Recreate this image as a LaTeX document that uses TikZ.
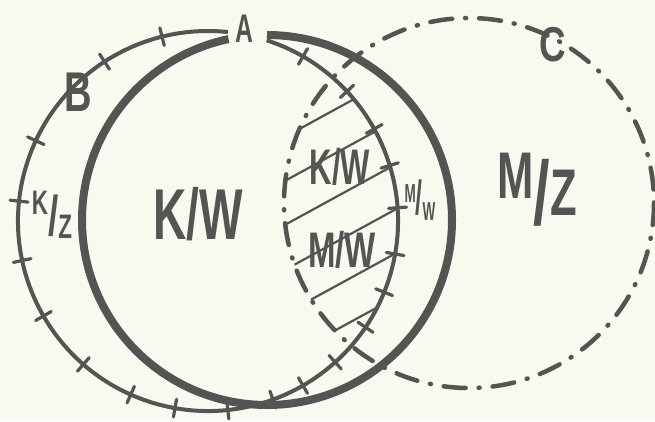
\documentclass[tikz,border=0pt]{standalone}
\usepackage{fontspec}
\setmainfont{Liberation Sans}
\usetikzlibrary{calc}
\definecolor{inkgray}{RGB}{84,84,82}
\definecolor{papercream}{RGB}{250,249,240}
\newcommand{\fs}[1]{\fontsize{#1}{#1}\selectfont}
\tikzset{
  kwcircle/.style={draw=inkgray, line width=8pt},
  tickcircle/.style={draw=inkgray, line width=4pt},
  tickmark/.style={draw=inkgray, line width=3.2pt, line cap=round},
  dotcircle/.style={draw=inkgray, line width=4.5pt, line cap=round,
    dash pattern=on 22pt off 13pt on 1pt off 13pt},
  hatchline/.style={draw=inkgray, line width=2.2pt},
  letter/.style={text=inkgray, inner sep=0pt, font=\fs{#1}\bfseries},
}

\begin{document}
\begin{tikzpicture}[x=1pt, y=-1pt]
  % paper
  \fill[papercream] (0,0) rectangle (655,421);
  \useasboundingbox (0,0) rectangle (655,421);
  \clip (0,0) rectangle (655,421);

  \coordinate (kw) at (267,220);
  \coordinate (bc) at (208,221);
  \coordinate (cc) at (469,203);

  % hatched lens
  \begin{scope}
    \clip (bc) circle (190);
    \clip (cc) circle (185);
    \foreach \c in {30,74,118,162,207,251,295,338,380}
      \draw[hatchline] (250,\c+82) -- (420,\c-11);
  \end{scope}

  % circles
  \draw[dotcircle] (cc) circle (185);
  \draw[kwcircle] ([shift={(-90:185)}]kw) arc[start angle=-90, end angle=258, radius=185];
  \draw[tickcircle] ([shift={(-72:190)}]bc) arc[start angle=-72, end angle=276, radius=190];
  \foreach \a in {-104,-123,-155,-174,168,150,131,114,100,84,70,
                  -60,-43,-29,-17,-4,10,22,34,48,60}
    \draw[tickmark] ([shift={(\a:181)}]bc) -- ([shift={(\a:199)}]bc);

  % letters
  \node[letter=40, xscale=.62] (lblA) at (244,29) {A};
  \node[letter=56, xscale=.68] (lblB) at (78,92) {B};
  \node[letter=49, xscale=.75] (lblC) at (553,45) {C};
  \node[letter=72, xscale=.64] (kwbig) at (198,214) {K/W};
  \node[letter=66, xscale=.66] (mzbig) at (537,190)
    {\raisebox{.3em}{M}{\fs{90}\raisebox{-6pt}{/}}\raisebox{.05em}{Z}};
  \node[letter=34, xscale=.66] (kzsmall) at (52,215)
    {\raisebox{.5em}{K}{\fs{56}\raisebox{-4pt}{/}}\raisebox{-.2em}{Z}};
  \node[letter=26, xscale=.52] (mwsmall) at (420,200)
    {\raisebox{.45em}{M}{\fs{48}/}\raisebox{-.25em}{W}};
  \node[letter=50, xscale=.62] (kwlens) at (340,167) {K/W};
  \node[letter=50, xscale=.66] (mwlens) at (342,250) {M/W};
\end{tikzpicture}
\end{document}
